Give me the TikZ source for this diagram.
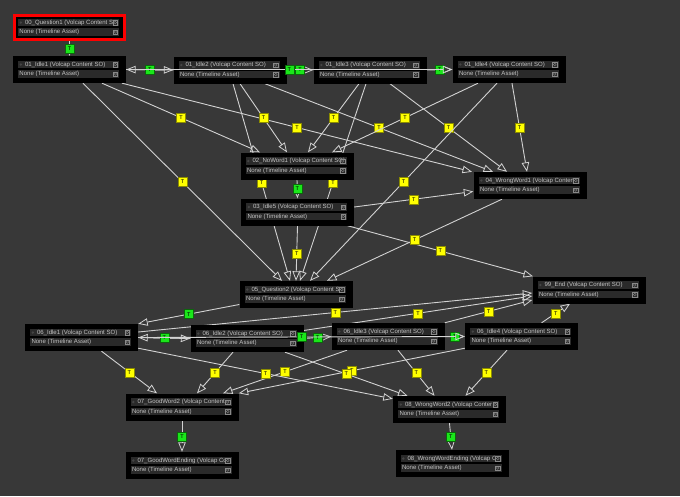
\documentclass[tikz,border=0pt]{standalone}
\usepackage{fontspec}
\setmainfont{Liberation Sans}
\usetikzlibrary{arrows.meta,positioning}
\definecolor{graphbg}{HTML}{383838}
\definecolor{rowgray}{HTML}{2A2A2A}
\definecolor{txtgray}{HTML}{C4C4C4}
\definecolor{linegray}{HTML}{D2D2D2}
\definecolor{tyellow}{HTML}{FFFF00}
\definecolor{tgreen}{HTML}{1AE61A}
\pgfdeclarelayer{bglayer}
\pgfdeclarelayer{edgelayer}
\pgfsetlayers{bglayer,edgelayer,main}
\tikzset{
    vcbox/.style={
        rectangle,
        fill=black,
        minimum width=113pt,
        minimum height=27pt,
        inner sep=0pt
    },
    qbox/.style={vcbox, draw=red, line width=2.6pt,
        minimum width=110.4pt, minimum height=24.4pt},
    vcrow/.style={rectangle, fill=rowgray, minimum width=101pt,
        minimum height=7.6pt, inner sep=0pt},
    vctext/.style={anchor=west, inner sep=0pt, text=txtgray,
        font=\fontsize{6.05}{7}\selectfont},
    vcicon/.style={
        rectangle, fill=rowgray, draw=txtgray!70!black, line width=0.4pt,
        minimum size=4.6pt, inner sep=0pt,
        path picture={\draw[txtgray!70!black, line width=0.3pt]
            (path picture bounding box.center) circle (1.4pt);}
    },
    trans/.style={draw=linegray, line width=0.9pt,
        -{Triangle[open, length=9.5pt, width=7.5pt, line width=0.8pt]}},
    tlab/.style={
        rectangle,
        fill=tyellow, draw=tyellow!55!black, line width=0.4pt,
        minimum size=9pt, inner sep=0pt,
        font=\fontsize{5.5}{6}\selectfont, text=black
    },
    glab/.style={tlab, fill=tgreen, draw=tgreen!45!black}
}
% one state box: [box style]{name}{position}{title}
\newcommand{\vcnode}[4][vcbox]{%
    \node[#1] (#2) at (#3) {};
    \node[vcrow] (#2-t) at ([xshift=-1pt,yshift=5pt]#2.center) {};
    \node[vcrow] (#2-a) at ([xshift=-1pt,yshift=-4.5pt]#2.center) {};
    \node[vctext] at ([xshift=7pt]#2-t.west) {#4};
    \node[vctext] at ([xshift=1.5pt]#2-a.west) {None (Timeline Asset)};
    \fill[txtgray!35!black] ([xshift=3pt]#2-t.west) circle (1.3pt);
    \node[vcicon] at ([xshift=-4pt]#2-t.east) {};
    \node[vcicon] at ([xshift=-4pt]#2-a.east) {};
}

\begin{document}
\begin{tikzpicture}[x=1pt, y=-1pt]
\begin{pgfonlayer}{bglayer}
    \fill[graphbg] (0,0) rectangle (680,496);
\end{pgfonlayer}
\useasboundingbox (0,0) rectangle (680,496);

\vcnode[qbox]{Q1}{69.5,27.5}{00\_Question1 (Volcap Content S}
\vcnode{I1}{69.5,69.5}{01\_Idle1 (Volcap Content SO)}
\vcnode{I2}{230,70}{01\_Idle2 (Volcap Content SO)}
\vcnode{I3}{370,70}{01\_Idle3 (Volcap Content SO)}
\vcnode{I4}{509,69.5}{01\_Idle4 (Volcap Content SO)}
\vcnode{NW1}{297,166}{02\_NoWord1 (Volcap Content SO)}
\vcnode{I5}{297.5,212}{03\_Idle5 (Volcap Content SO)}
\vcnode{WW1}{530,185.5}{04\_WrongWord1 (Volcap Conten}
\vcnode{Q2}{296,294.5}{05\_Question2 (Volcap Content S}
\vcnode{END}{589,290}{99\_End (Volcap Content SO)}
\vcnode{J1}{81.5,337.5}{06\_Idle1 (Volcap Content SO)}
\vcnode{J2}{247,338.5}{06\_Idle2 (Volcap Content SO)}
\vcnode{J3}{388,336.5}{06\_Idle3 (Volcap Content SO)}
\vcnode{J4}{521.5,336.5}{06\_Idle4 (Volcap Content SO)}
\vcnode{GW2}{182,407}{07\_GoodWord2 (Volcap Content}
\vcnode{WW2}{449.5,409.5}{08\_WrongWord2 (Volcap Conter}
\vcnode{GWE}{182,465.5}{07\_GoodWordEnding (Volcap Cc}
\vcnode{WWE}{452,463.5}{08\_WrongWordEnding (Volcap C}

\begin{pgfonlayer}{edgelayer}
\draw[trans] (Q1.south) -- node[glab]{T} (I1.north);
\draw[trans] (I1.east) -- node[glab]{T} (I2.west);
\draw[trans] (I2.west) -- node[glab]{T} (I1.east);
\draw[trans] (I2.east) -- node[glab]{T} (I3.west);
\draw[trans] (I3.east) -- node[glab]{T} (I4.west);

\draw[trans] ([xshift=32.5pt]I1.south) -- node[tlab]{T} ([xshift=-37pt]NW1.north);
\draw[trans] ([xshift=52.5pt]I1.south) -- node[tlab]{T} ([xshift=-58pt]WW1.north);
\draw[trans] ([xshift=13.5pt]I1.south) -- node[tlab]{T} ([xshift=-14pt]Q2.north);
\draw[trans] ([xshift=10pt]I2.south) -- node[tlab]{T} ([xshift=-10pt]NW1.north);
\draw[trans] ([xshift=35pt]I2.south) -- node[tlab]{T} ([xshift=-37pt]WW1.north);
\draw[trans] ([xshift=3pt]I2.south) -- node[tlab]{T} ([xshift=-6pt]Q2.north);
\draw[trans] ([xshift=-11pt]I3.south) -- node[tlab]{T} ([xshift=11pt]NW1.north);
\draw[trans] ([xshift=20pt]I3.south) -- node[tlab]{T} ([xshift=-23pt]WW1.north);
\draw[trans] ([xshift=-4pt]I3.south) -- node[tlab]{T} ([xshift=4pt]Q2.north);
\draw[trans] ([xshift=-31pt]I4.south) -- node[tlab]{T} ([xshift=35pt]NW1.north);
\draw[trans] ([xshift=3pt]I4.south) -- node[tlab]{T} ([xshift=-3pt]WW1.north);
\draw[trans] ([xshift=-12pt]I4.south) -- node[tlab]{T} ([xshift=14pt]Q2.north);

\draw[trans] (NW1.south) -- node[glab]{T} (I5.north);
\draw[trans] (I5.south) -- node[tlab]{T} (Q2.north);
\draw[trans] ([yshift=5pt]I5.east) -- node[tlab]{T} ([yshift=-6pt]WW1.west);
\draw[trans] ([xshift=50pt]I5.south) -- node[tlab]{T} ([xshift=-56pt]END.north);
\draw[trans] ([xshift=-28pt]WW1.south) -- node[tlab]{T} ([xshift=31pt]Q2.north);

\draw[trans] ([yshift=-10pt]Q2.west) -- node[glab]{T} (J1.north east);
\draw[trans] (J1.east) -- node[glab]{T} (J2.west);
\draw[trans] (J2.west) -- node[glab]{T} (J1.east);
\draw[trans] (J2.east) -- node[glab]{T} (J3.west);
\draw[trans] (J3.east) -- node[glab]{T} (J4.west);

\draw[trans] ([yshift=5.5pt]J1.east) -- node[tlab]{T} ([yshift=-3pt]END.west);
\draw[trans] ([yshift=8pt]J2.east) -- node[tlab]{T} ([yshift=-6pt]END.west);
\draw[trans] (J3.north east) -- node[tlab]{T} ([yshift=-10pt]END.west);
\draw[trans] ([xshift=20pt]J4.north) -- node[tlab]{T} ([xshift=-19pt]END.south);

\draw[trans] ([xshift=20pt]J1.south) -- node[tlab]{T} ([xshift=-25pt]GW2.north);
\draw[trans] ([xshift=-14pt]J2.south) -- node[tlab]{T} ([xshift=15pt]GW2.north);
\draw[trans] ([xshift=-41pt]J3.south) -- node[tlab]{T} ([xshift=41pt]GW2.north);
\draw[trans] ([yshift=2pt]J4.south west) -- node[tlab]{T} (GW2.north east);
\draw[trans] ([yshift=3pt]J1.south east) -- node[tlab]{T} ([yshift=-3pt]WW2.north west);
\draw[trans] ([xshift=38pt]J2.south) -- node[tlab]{T} ([xshift=-42pt]WW2.north);
\draw[trans] ([xshift=10pt]J3.south) -- node[tlab]{T} ([xshift=-15pt]WW2.north);
\draw[trans] ([xshift=-14.5pt]J4.south) -- node[tlab]{T} ([xshift=16pt]WW2.north);

\draw[trans] (GW2.south) -- node[glab]{T} (GWE.north);
\draw[trans] (WW2.south) -- node[glab]{T} (WWE.north);
\end{pgfonlayer}

% long ones run over the boxes
\draw[trans] (I1.east) -- node[glab]{T} (I4.west);
\draw[trans] (J1.east) -- node[glab]{T} (J4.west);
\end{tikzpicture}
\end{document}
